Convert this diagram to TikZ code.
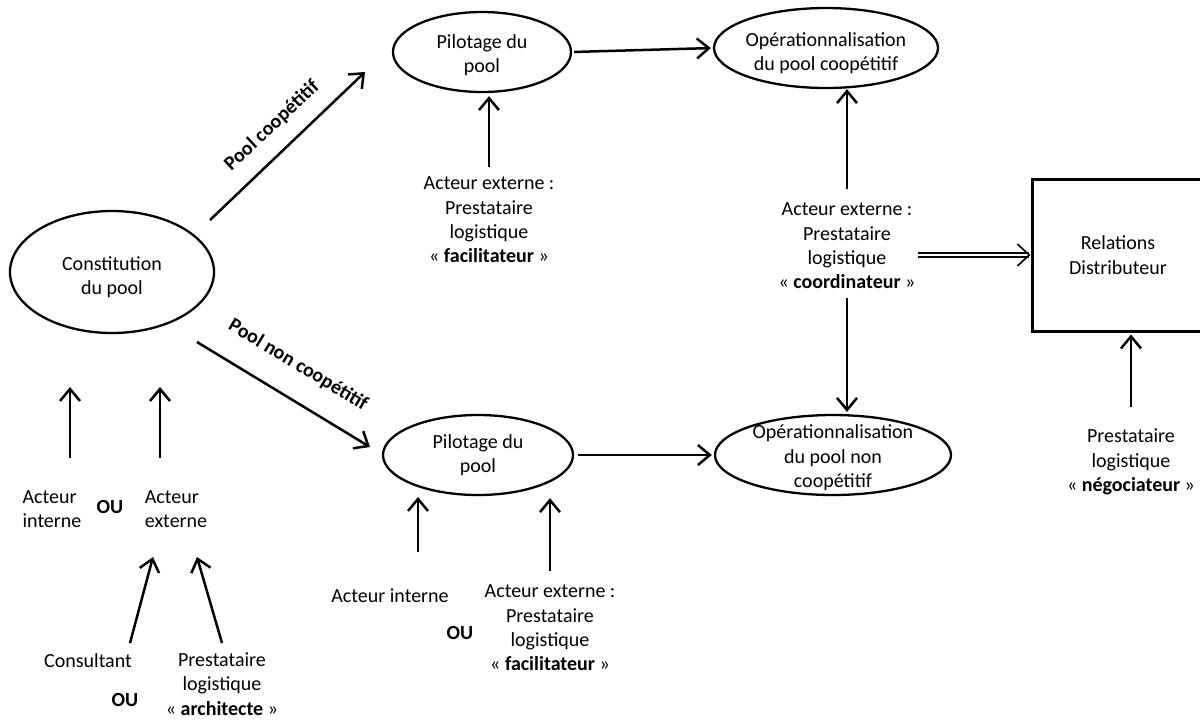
\documentclass[tikz,border=0pt]{standalone}
\usepackage{fontspec}
\setmainfont{Carlito}
\usetikzlibrary{arrows.meta, shapes.geometric}

\tikzset{
	arr/.style={-{Straight Barb[length=6pt, width=10pt]}, line width=1.25pt},
	dblarr/.style={double, double distance=1.3pt, line width=0.8pt, -{Straight Barb[length=6pt, width=11pt]}},
	oval/.style={draw, ellipse, line width=1.15pt, inner sep=0pt},
	txt/.style={align=center, inner sep=1pt},
}

\begin{document}
\begin{tikzpicture}[x=0.5pt, y=-0.5pt, font=\fontsize{10}{12.2}\selectfont]
		\useasboundingbox (0,0) rectangle (1200,720);
		
		\node [oval, minimum width=102pt, minimum height=61pt] (const) at (112,272) {};
		\node [txt] (constT) at (112,277) {Constitution\\du pool};
		
		\node [oval, minimum width=89pt, minimum height=40pt] (pil1) at (482,52) {};
		\node [txt] (pil1T) at (482,55) {Pilotage du\\pool};
		
		\node [oval, minimum width=112pt, minimum height=40pt] (op1) at (826,48) {};
		\node [txt] (op1T) at (826,53) {Opérationnalisation\\du pool coopétitif};
		
		\node [oval, minimum width=95pt, minimum height=40pt] (pil2) at (478,455) {};
		\node [txt] (pil2T) at (478,455) {Pilotage du\\pool};
		
		\node [oval, minimum width=118pt, minimum height=40pt] (op2) at (833,455) {};
		\node [txt] (op2T) at (833,458) {Opérationnalisation\\du pool non\\coopétitif};
		
		\node [draw, line width=1.5pt, minimum width=86pt, minimum height=76pt, align=center] (rel) at (1118,255) {Relations\\Distributeur};
		
		\node [txt] (fac1) at (489,220) {Acteur externe :\\Prestataire\\logistique\\« \textbf{facilitateur} »};
		\node [txt] (coord) at (847,246) {Acteur externe :\\Prestataire\\logistique\\« \textbf{coordinateur} »};
		\node [txt] (nego) at (1131,462) {Prestataire\\logistique\\« \textbf{négociateur} »};
		
		\node [align=left] (ai1) at (52,509) {Acteur\\interne};
		\node (ou1) at (110,507) {\textbf{OU}};
		\node [align=left] (ae1) at (176,509) {Acteur\\externe};
		\node (cons) at (88,661) {Consultant};
		\node [txt] (arch) at (222,684) {Prestataire\\logistique\\« \textbf{architecte} »};
		\node (ou3) at (125,700) {\textbf{OU}};
		
		\node (ai2) at (390,596) {Acteur interne};
		\node (ou2) at (460,633) {\textbf{OU}};
		\node [txt] (fac2) at (550,628) {Acteur externe :\\Prestataire\\logistique\\« \textbf{facilitateur} »};
		
		\coordinate (coopA) at (210,220);
		\coordinate (coopB) at (365,72);
		\coordinate (ncoopA) at (197,342);
		\coordinate (ncoopB) at (370,447);
		\draw [arr] (coopA) -- (coopB);
		\draw [arr] (ncoopA) -- (ncoopB);
		\node [rotate=43] (coopL) at (272,126) {\textbf{Pool coopétitif}};
		\node [rotate=-31] (ncoopL) at (298,365) {\textbf{Pool non coopétitif}};
		
		\draw [arr, shorten <=1pt, shorten >=1pt] (pil1.east) -- (op1.west);
		\draw [arr, shorten <=2pt, shorten >=1pt] (pil2.east) -- (op2.west);
		
		\draw [arr, shorten <=4pt, shorten >=1.5pt] (fac1.north) -- (fac1.north |- pil1.south);
		\draw [arr, shorten <=6pt] (coord.north) -- (coord.north |- op1.south);
		\draw [arr, shorten <=3pt, shorten >=1pt] (coord.south) -- (coord.south |- op2.north);
		\draw [dblarr] (coord.east |- rel.west) -- (rel.west);
		\draw [arr, shorten <=10pt, shorten >=1pt] (nego.north) -- (nego.north |- rel.south);
		
		\coordinate (ai1a) at (70,458);
		\coordinate (ai1b) at (70,387);
		\coordinate (ae1a) at (160,458);
		\coordinate (ae1b) at (160,387);
		\draw [arr] (ai1a) -- (ai1b);
		\draw [arr] (ae1a) -- (ae1b);
		
		\coordinate (consA) at (130,643);
		\coordinate (consB) at (153,557);
		\coordinate (archA) at (222,643);
		\coordinate (archB) at (197,557);
		\draw [arr] (consA) -- (consB);
		\draw [arr] (archA) -- (archB);
		
		\coordinate (ai2a) at (418,552);
		\coordinate (ai2b) at (418,497);
		\draw [arr] (ai2a) -- (ai2b);
		\draw [arr, shorten <=6pt, shorten >=1pt] (fac2.north) -- (fac2.north |- pil2.south);
	\end{tikzpicture}
\end{document}
